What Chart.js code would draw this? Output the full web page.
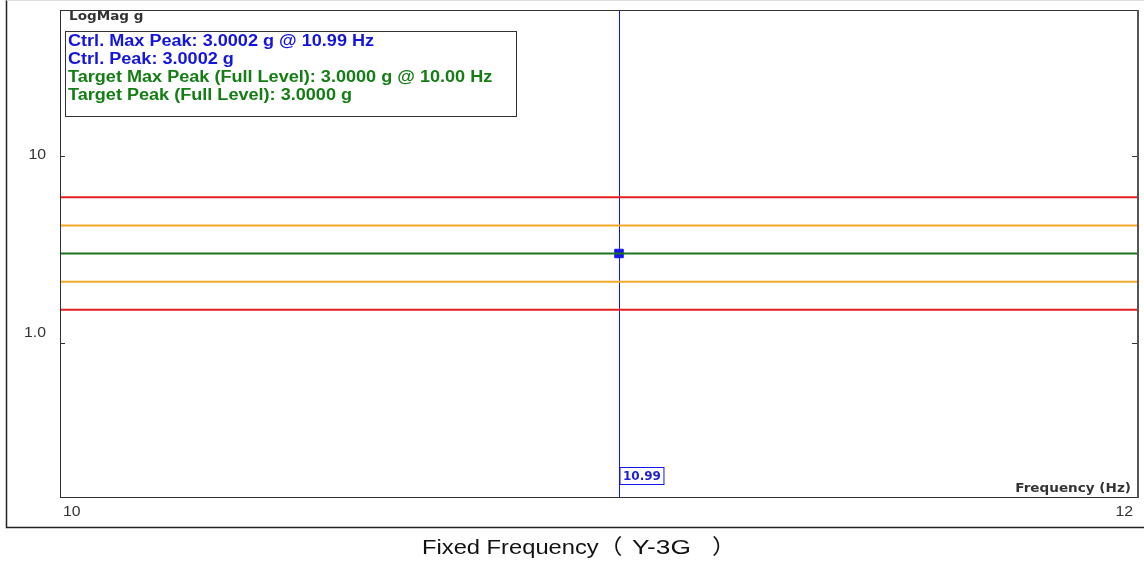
<!DOCTYPE html>
<html>
<head>
<meta charset="utf-8">
<script src="https://cdn.jsdelivr.net/npm/chart.js@4.4.0/dist/chart.umd.min.js"></script>
<style>
    body { margin: 0; background: #fff; }
    #wrap { position: relative; width: 1144px; height: 563px; }
</style>
</head>
<body>
<div id="wrap"><canvas id="fixedFreq" width="1144" height="563"></canvas></div>
<script>
// frequency span of the plot (Hz)
const freqRange = [9.9, 12];
const freqs = [9.9, 12];
// limit lines (g)
const abortHigh = [6.0, 6.0];
const alarmHigh = [4.24, 4.24];
const target = [3.0, 3.0];
const alarmLow = [2.12, 2.12];
const abortLow = [1.5, 1.5];
// control point
const ctrlFreq = [10.99];
const ctrlPeak = [3.0002];
// axis ticks
const yTicks = [10, 1];
const yTickLabels = ['10', '1.0'];
const xTickLabels = ['10', '12'];

const infoLines = [
    { text: 'Ctrl. Max Peak: 3.0002 g @ 10.99 Hz', color: 'rgb(20, 20, 225)' },
    { text: 'Ctrl. Peak: 3.0002 g', color: 'rgb(20, 20, 225)' },
    { text: 'Target Max Peak (Full Level): 3.0000 g @ 10.00 Hz', color: 'rgb(20, 125, 20)' },
    { text: 'Target Peak (Full Level): 3.0000 g', color: 'rgb(20, 125, 20)' }
];

// the screenshot text is a bit wider than the fonts we have
const SX = 1.13;

function pts(ys) {
    return freqs.map(function (f, i) { return { x: f, y: ys[i] }; });
}

function limitLine(ys, colour) {
    return {
        data: pts(ys),
        borderColor: colour,
        borderWidth: 2,
        pointRadius: 0,
        tension: 0
    };
}

function wideText(c, text, x, y, align, sx) {
    c.save();
    c.translate(x, y);
    c.scale(sx || SX, 1);
    c.textAlign = align;
    c.fillText(text, 0, 0);
    c.restore();
}

const decorations = {
    id: 'decorations',
    beforeDatasetsDraw(chart) {
        // cursor line under the marker
        const c = chart.ctx;
        const a = chart.chartArea;
        const cx = Math.round(chart.scales.x.getPixelForValue(ctrlFreq[0])) + 0.5;
        c.save();
        c.strokeStyle = 'rgb(20, 20, 240)';
        c.lineWidth = 1;
        c.beginPath();
        c.moveTo(cx, a.top);
        c.lineTo(cx, a.bottom);
        c.stroke();
        c.restore();
    },
    afterDraw(chart) {
        const c = chart.ctx;
        const a = chart.chartArea;
        const xs = chart.scales.x;
        const ys = chart.scales.y;
        c.save();

        // outer frame
        c.strokeStyle = '#222';
        c.lineWidth = 1.5;
        c.beginPath();
        c.moveTo(6.5, 0);
        c.lineTo(6.5, 527.5);
        c.lineTo(1144, 527.5);
        c.stroke();
        c.strokeStyle = '#ddd';
        c.lineWidth = 1;
        c.beginPath();
        c.moveTo(6.5, 0.5);
        c.lineTo(1144, 0.5);
        c.stroke();

        const cx = Math.round(xs.getPixelForValue(ctrlFreq[0])) + 0.5;

        // plot frame
        c.strokeStyle = '#333';
        c.lineWidth = 1;
        c.strokeRect(a.left + 0.5, a.top + 0.5, a.right - a.left, a.bottom - a.top);
        c.strokeStyle = '#555';
        c.lineWidth = 2;
        c.beginPath();
        c.moveTo(a.right + 1, a.top);
        c.lineTo(a.right + 1, a.bottom + 1);
        c.stroke();

        // y ticks + labels
        c.strokeStyle = '#333';
        c.lineWidth = 1;
        c.font = '14px "Liberation Sans", Arial, sans-serif';
        c.fillStyle = '#333';
        c.textBaseline = 'middle';
        yTicks.forEach(function (v, i) {
            const py = Math.round(ys.getPixelForValue(v)) + 0.5;
            c.beginPath();
            c.moveTo(a.left, py);
            c.lineTo(a.left + 5, py);
            c.moveTo(a.right - 5, py);
            c.lineTo(a.right, py);
            c.stroke();
            wideText(c, yTickLabels[i], 46, py - (i === 0 ? 1 : 10), 'right');
        });

        // x tick labels
        wideText(c, xTickLabels[0], a.left + 3, 512, 'left');
        wideText(c, xTickLabels[1], a.right - 4, 512, 'right');

        // axis titles
        c.font = 'bold 12px Verdana, "DejaVu Sans", sans-serif';
        c.fillStyle = '#333';
        wideText(c, 'LogMag g', 69, 17, 'left');
        wideText(c, 'Frequency (Hz)', 1131, 489, 'right');

        // info box
        c.fillStyle = '#fff';
        c.fillRect(65, 31, 452, 85);
        c.strokeStyle = '#333';
        c.lineWidth = 1;
        c.strokeRect(65.5, 31.5, 451, 85);
        c.font = 'bold 16px "Liberation Sans", Arial, sans-serif';
        infoLines.forEach(function (l, i) {
            c.fillStyle = l.color;
            wideText(c, l.text, 68, 42 + i * 17.8, 'left');
        });

        // cursor value box
        c.font = 'bold 12px Verdana, "DejaVu Sans", sans-serif';
        const label = ctrlFreq[0].toFixed(2);
        const w = c.measureText(label).width + 6;
        c.fillStyle = '#fff';
        c.fillRect(cx + 1, 467, w, 18);
        c.strokeStyle = 'rgb(20, 20, 240)';
        c.strokeRect(cx + 0.5, 467.5, w, 17);
        c.fillStyle = 'rgb(30, 30, 210)';
        c.textAlign = 'left';
        c.fillText(label, cx + 3.5, 476.5);

        // caption (wide brackets spaced like the original)
        c.font = '21px "Liberation Sans", Arial, "Noto Sans CJK SC", sans-serif';
        c.fillStyle = '#111';
        wideText(c, 'Fixed Frequency（', 422, 548, 'left');
        wideText(c, 'Y-3G', 632, 548, 'left', 1.25);
        wideText(c, '）', 712, 548, 'left');

        c.restore();
    }
};

function fixedFrequency() {
    let ctx = document.getElementById('fixedFreq');
    let fixedFrequency = new Chart(ctx, {
        type: 'line',
        data: {
            datasets: [
                limitLine(abortHigh, 'rgb(228, 30, 30)'),
                limitLine(alarmHigh, 'rgb(240, 170, 40)'),
                limitLine(target, 'rgb(30, 115, 30)'),
                limitLine(alarmLow, 'rgb(240, 170, 40)'),
                limitLine(abortLow, 'rgb(228, 30, 30)'),
                {
                    data: ctrlFreq.map(function (f, i) { return { x: f, y: ctrlPeak[i] }; }),
                    borderColor: 'rgb(20, 20, 240)',
                    backgroundColor: 'rgb(20, 20, 240)',
                    pointStyle: 'rect',
                    pointRadius: 6,
                    showLine: false
                }
            ]
        },
        options: {
            responsive: false,
            animation: false,
            layout: {
                padding: { left: 60, top: 10, right: 7, bottom: 66 }
            },
            plugins: {
                legend: { display: false },
                tooltip: { enabled: false }
            },
            scales: {
                x: {
                    type: 'linear',
                    min: freqRange[0],
                    max: freqRange[1],
                    display: false
                },
                y: {
                    type: 'logarithmic',
                    min: 0.15,
                    max: 60,
                    display: false
                }
            }
        },
        plugins: [decorations]
    });
}

fixedFrequency();
</script>
</body>
</html>
